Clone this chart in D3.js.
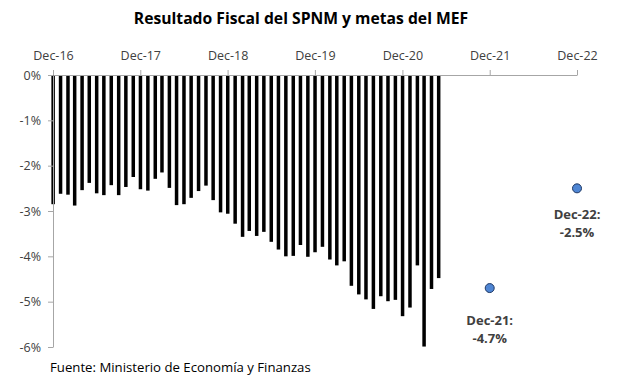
<!DOCTYPE html>
<html>
<head>
<meta charset="utf-8">
<script src="https://cdn.jsdelivr.net/npm/d3@7"></script>
<style>
  body { margin: 0; background: #fff; }
  text { font-family: "Open Sans", sans-serif; fill: #404040; }
</style>
</head>
<body>
<div id="chart"></div>
<script>
// SVG dimensions
var svgWidth = 617;
var svgHeight = 391;

// monthly fiscal result (% of GDP), Dec-16 .. May-21
var firstMonth = new Date(2016, 11, 1);
var barValues = [
  -2.85,
  -2.62, -2.64, -2.88, -2.54, -2.38, -2.61, -2.65, -2.43, -2.65, -2.47, -2.25, -2.52,
  -2.55, -2.29, -2.15, -2.49, -2.87, -2.85, -2.71, -2.56, -2.44, -2.76, -3.03, -3.06,
  -3.28, -3.57, -3.44, -3.55, -3.46, -3.68, -3.85, -4.00, -3.99, -3.75, -4.01, -3.91,
  -3.79, -4.07, -4.20, -4.11, -4.65, -4.84, -4.95, -5.16, -4.88, -4.99, -4.96, -5.32,
  -5.13, -4.20, -5.99, -4.72, -4.48
];

// MEF targets
var targetDates = [new Date(2021, 11, 1), new Date(2022, 11, 1)];
var targetValues = [-4.7, -2.5];
var targetLabels = [["Dec-21:", "-4.7%"], ["Dec-22:", "-2.5%"]];

// axis ticks
var xTickDates = [2016, 2017, 2018, 2019, 2020, 2021, 2022].map(y => new Date(y, 11, 1));
var xTickLabels = ["Dec-16", "Dec-17", "Dec-18", "Dec-19", "Dec-20", "Dec-21", "Dec-22"];
var yTicks = [0, -1, -2, -3, -4, -5, -6];

var svg = d3.select("#chart")
  .append("svg")
  .attr("width", svgWidth)
  .attr("height", svgHeight);

var xScale = d3.scaleTime()
  .domain([xTickDates[0], xTickDates[6]])
  .range([53, 577]);

var yScale = d3.scaleLinear()
  .domain([-6, 0])
  .range([347, 75]);

var barData = barValues.map((v, i) => ({ date: d3.timeMonth.offset(firstMonth, i), value: v }));

// title
svg.append("text")
  .attr("x", 301)
  .attr("y", 24)
  .attr("text-anchor", "middle")
  .style("font-size", "15.7px")
  .style("font-weight", "bold")
  .style("fill", "#000")
  .text("Resultado Fiscal del SPNM y metas del MEF");

// bars
svg.append("g")
  .selectAll("rect")
  .data(barData)
  .enter()
  .append("rect")
  .attr("x", d => xScale(d.date) - 1.6)
  .attr("y", yScale(0))
  .attr("width", 3.5)
  .attr("height", d => yScale(d.value) - yScale(0))
  .attr("fill", "#000");

// x axis on the 0% line, ticks pointing up, labels on top
var xAxis = d3.axisTop(xScale)
  .tickValues(xTickDates)
  .tickFormat((d, i) => xTickLabels[i])
  .tickSize(5)
  .tickSizeOuter(0);

var xg = svg.append("g")
  .attr("transform", `translate(0, ${yScale(0)})`)
  .call(xAxis);
xg.select(".domain").attr("stroke", "#a6a6a6");
xg.selectAll(".tick line").attr("stroke", "#a6a6a6");
xg.selectAll(".tick text")
  .attr("y", -15)
  .style("font-size", "12.5px")
  .style("font-family", "Open Sans, sans-serif")
  .attr("fill", "#404040");

// y axis
var yAxis = d3.axisLeft(yScale)
  .tickValues(yTicks)
  .tickFormat(d => d + "%")
  .tickSize(5)
  .tickSizeOuter(0);

var yg = svg.append("g")
  .attr("transform", `translate(${xScale(xTickDates[0])}, 0)`)
  .call(yAxis);
yg.select(".domain").attr("stroke", "#a6a6a6");
yg.selectAll(".tick line").attr("stroke", "#a6a6a6");
yg.selectAll(".tick text")
  .attr("x", -12)
  .style("font-size", "12.5px")
  .style("font-family", "Open Sans, sans-serif")
  .attr("fill", "#404040");

// target points
svg.append("g")
  .selectAll("circle")
  .data(targetValues)
  .enter()
  .append("circle")
  .attr("cx", (d, i) => xScale(targetDates[i]))
  .attr("cy", d => yScale(d))
  .attr("r", 4.5)
  .attr("fill", "#4f86d4")
  .attr("stroke", "#1f3864")
  .attr("stroke-width", 1);

// target labels (label offset below each point)
var labelOffsets = [37, 31];
targetValues.forEach(function(v, i) {
  var cx = xScale(targetDates[i]);
  var t = svg.append("text")
    .attr("x", cx)
    .attr("y", yScale(v) + labelOffsets[i])
    .attr("text-anchor", "middle")
    .style("font-size", "13px")
    .style("font-weight", "bold");
  t.append("tspan").attr("x", cx).attr("dy", 0).text(targetLabels[i][0]);
  t.append("tspan").attr("x", cx).attr("dy", 18).text(targetLabels[i][1]);
});

// source
svg.append("text")
  .attr("x", 50)
  .attr("y", 372)
  .style("font-size", "13.2px")
  .style("fill", "#000")
  .text("Fuente: Ministerio de Economía y Finanzas");
</script>
</body>
</html>
